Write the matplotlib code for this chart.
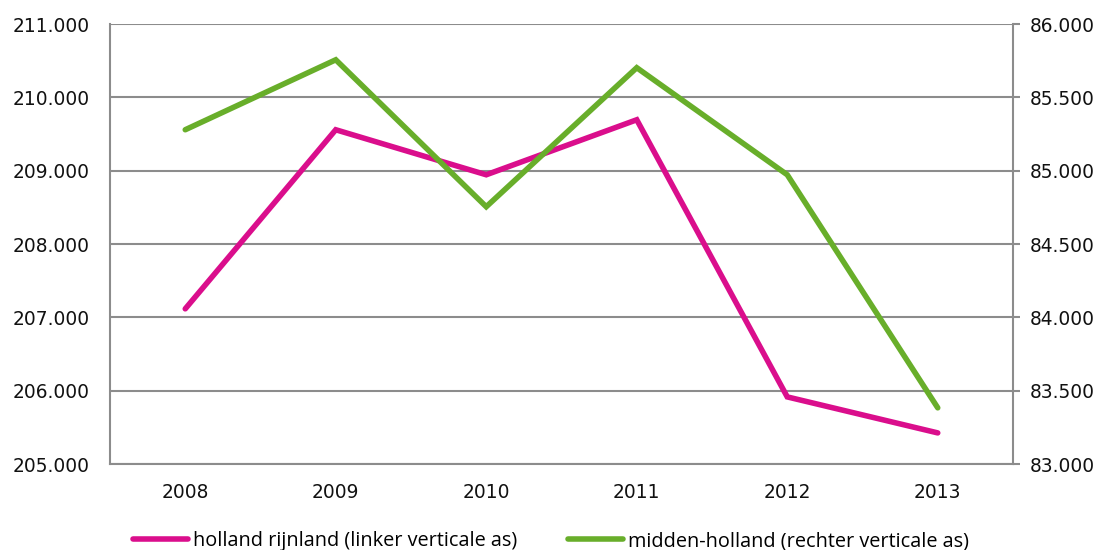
import matplotlib
matplotlib.use("Agg")
import matplotlib.pyplot as plt
from matplotlib.ticker import FuncFormatter

years = ["2008", "2009", "2010", "2011", "2012", "2013"]
holland_rijnland = [207.116, 209.558, 208.944, 209.694, 205.915, 205.424]
midden_holland = [85.279, 85.756, 84.754, 85.702, 84.972, 83.383]
left_ticks = [205, 206, 207, 208, 209, 210, 211]
right_ticks = [83.0, 83.5, 84.0, 84.5, 85.0, 85.5, 86.0]
label_left = "holland rijnland (linker verticale as)"
label_right = "midden-holland (rechter verticale as)"

pink = "#DA0E8C"
green = "#68AE2A"
grid_c = "#8C8C8C"

plt.rcParams['font.family'] = ['DejaVu Sans']
fs_tick = 13.4
fs_leg = 14.3

fig = plt.figure(figsize=(11.02, 5.5), dpi=100)
ax = fig.add_axes([110/1102, 1-464/550, (1013-110)/1102, (464-24)/550])
ax2 = ax.twinx()

x = list(range(len(years)))
l1, = ax.plot(x, holland_rijnland, color=pink, lw=4, solid_capstyle='round', solid_joinstyle='miter', zorder=3)
l2, = ax2.plot(x, midden_holland, color=green, lw=4, solid_capstyle='round', solid_joinstyle='miter', zorder=3)

ax.set_xlim(-0.5, 5.5)
ax.set_ylim(205, 211)
ax2.set_ylim(83, 86)
ax.set_yticks(left_ticks)
ax2.set_yticks(right_ticks)
fmt = FuncFormatter(lambda v, p: f"{v:.3f}")
ax.yaxis.set_major_formatter(fmt)
ax2.yaxis.set_major_formatter(fmt)
ax.set_xticks(x)
ax.set_xticklabels(years)

ax.grid(axis='y', color=grid_c, lw=1.5)
ax.set_axisbelow(True)
for s in ('left', 'bottom'):
    ax.spines[s].set_color(grid_c)
    ax.spines[s].set_linewidth(1.5)
ax.spines['top'].set_visible(False)
ax.spines['right'].set_visible(False)
for s in ('top', 'left', 'bottom'):
    ax2.spines[s].set_visible(False)
ax2.spines['right'].set_color(grid_c)
ax2.spines['right'].set_linewidth(1.5)

ax.tick_params(axis='y', which='both', left=False, right=False, length=0, pad=14.4,
               labelsize=fs_tick, labelcolor='#111111')
ax.tick_params(axis='x', which='both', bottom=False, top=False, length=0, pad=14,
               labelsize=fs_tick, labelcolor='#111111')
ax2.tick_params(axis='y', which='both', left=False, right=True, length=5, width=1.5,
                color=grid_c, pad=7.2, labelsize=fs_tick, labelcolor='#111111')

fig.legend([l1, l2], [label_left, label_right], loc='center', ncol=2,
           bbox_to_anchor=(0.5, 1-541/550), frameon=False,
           prop={'family': ['Open Sans', 'DejaVu Sans'], 'size': fs_leg},
           handlelength=2.75, handletextpad=0.25, columnspacing=2.6)

fig.savefig("out.png", dpi=100)
